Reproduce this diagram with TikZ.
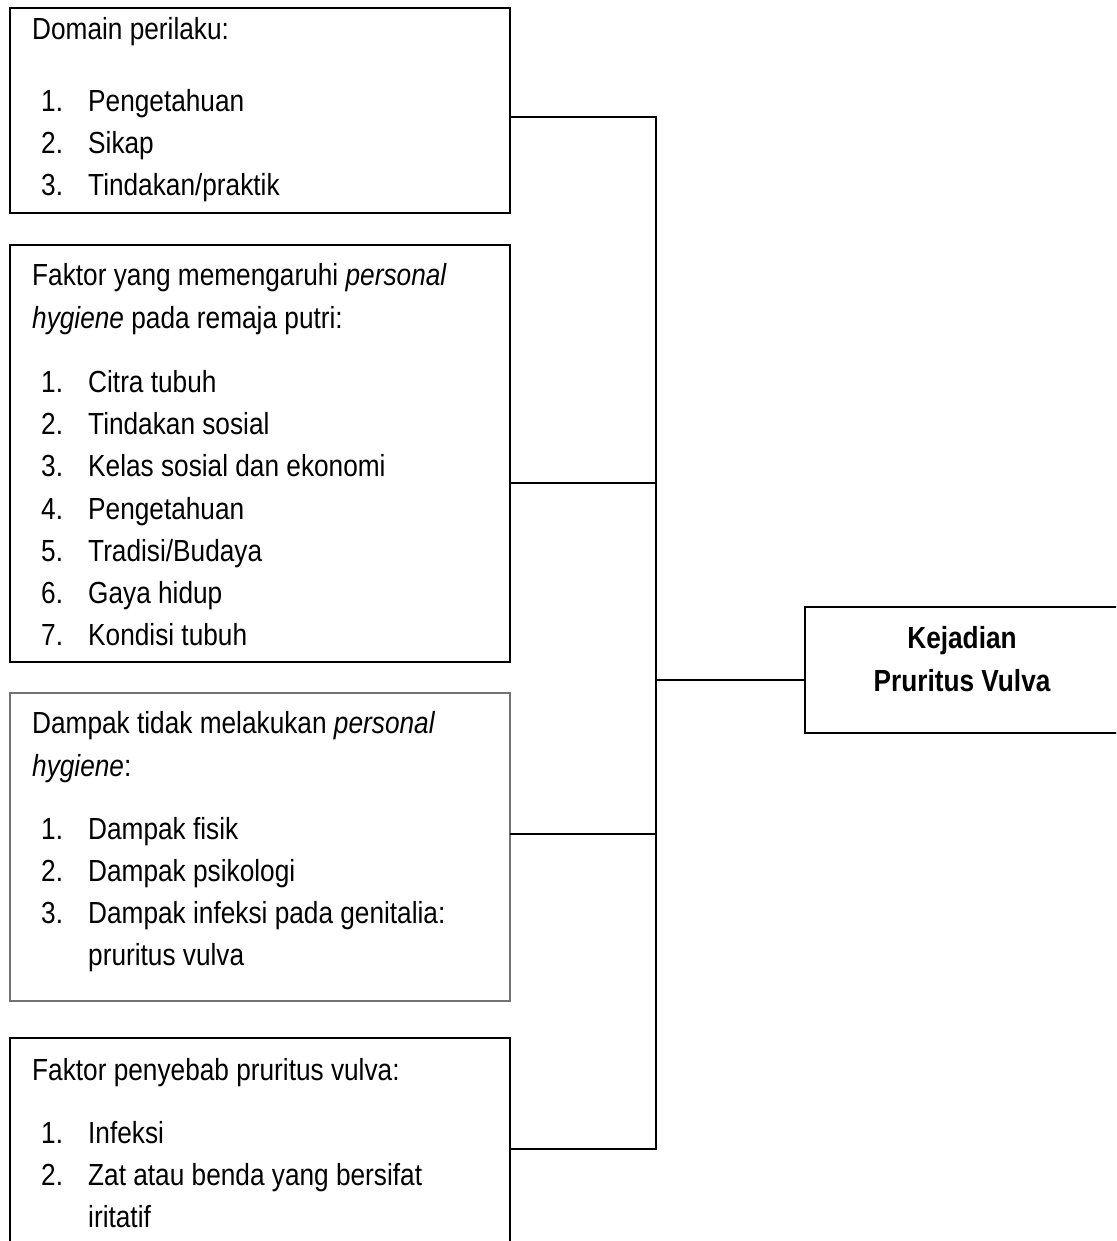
\documentclass[tikz,border=0pt]{standalone}
\usepackage{fontspec}
\setmainfont{Liberation Sans}[FakeStretch=0.86]
\begin{document}
\begin{tikzpicture}[x=1pt,y=-1pt,
  boxframe/.style={draw=black, line width=2.2pt, anchor=north west, inner sep=0pt, outer sep=0pt},
  grayframe/.style={draw=black!55, line width=1.3pt, anchor=north west, inner sep=0pt, outer sep=0pt},
  txt/.style={anchor=base west, inner sep=0pt, font=\fontsize{30.5}{36}\selectfont},
  btxt/.style={anchor=base, inner sep=0pt, font=\fontsize{30.5}{36}\selectfont\bfseries},
  conn/.style={draw=black, line width=2.2pt}]
\useasboundingbox (0,0) rectangle (1116,1241);
\fill[white] (0,0) rectangle (1116,1241);
\clip (0,0) rectangle (1116,1241);

% boxes
\node[boxframe, minimum width=500pt, minimum height=205pt] (box1) at (10,8) {};
\node[boxframe, minimum width=500pt, minimum height=417pt] (box2) at (10,245) {};
\node[grayframe, minimum width=500pt, minimum height=308pt] (box3) at (10,693) {};
\node[boxframe, minimum width=500pt, minimum height=230pt] (box4) at (10,1038) {};
\node[boxframe, minimum width=320pt, minimum height=126pt] (kej) at (805,607) {};

% box 1 text
\node[txt] (b1h) at (32,40) {Domain perilaku:};
\node[txt] (b1n1) at (41,112) {1.};
\node[txt] (b1i1) at (88,112) {Pengetahuan};
\node[txt] (b1n2) at (41,154) {2.};
\node[txt] (b1i2) at (88,154) {Sikap};
\node[txt] (b1n3) at (41,196) {3.};
\node[txt] (b1i3) at (88,196) {Tindakan/praktik};

% box 2 text
\node[txt] (b2h1) at (32,285) {Faktor yang memengaruhi \textit{personal}};
\node[txt] (b2h2) at (32,328) {\textit{hygiene} pada remaja putri:};
\node[txt] (b2n1) at (41,392) {1.};
\node[txt] (b2i1) at (88,392) {Citra tubuh};
\node[txt] (b2n2) at (41,434) {2.};
\node[txt] (b2i2) at (88,434) {Tindakan sosial};
\node[txt] (b2n3) at (41,476) {3.};
\node[txt] (b2i3) at (88,476) {Kelas sosial dan ekonomi};
\node[txt] (b2n4) at (41,519) {4.};
\node[txt] (b2i4) at (88,519) {Pengetahuan};
\node[txt] (b2n5) at (41,561) {5.};
\node[txt] (b2i5) at (88,561) {Tradisi/Budaya};
\node[txt] (b2n6) at (41,603) {6.};
\node[txt] (b2i6) at (88,603) {Gaya hidup};
\node[txt] (b2n7) at (41,645) {7.};
\node[txt] (b2i7) at (88,645) {Kondisi tubuh};

% box 3 text
\node[txt] (b3h1) at (32,733) {Dampak tidak melakukan \textit{personal}};
\node[txt] (b3h2) at (32,776) {\textit{hygiene}:};
\node[txt] (b3n1) at (41,839) {1.};
\node[txt] (b3i1) at (88,839) {Dampak fisik};
\node[txt] (b3n2) at (41,881) {2.};
\node[txt] (b3i2) at (88,881) {Dampak psikologi};
\node[txt] (b3n3) at (41,923) {3.};
\node[txt] (b3i3) at (88,923) {Dampak infeksi pada genitalia:};
\node[txt] (b3i3b) at (88,965) {pruritus vulva};

% box 4 text
\node[txt] (b4h) at (32,1080) {Faktor penyebab pruritus vulva:};
\node[txt] (b4n1) at (41,1143) {1.};
\node[txt] (b4i1) at (88,1143) {Infeksi};
\node[txt] (b4n2) at (41,1185) {2.};
\node[txt] (b4i2) at (88,1185) {Zat atau benda yang bersifat};
\node[txt] (b4i2b) at (88,1227) {iritatif};

% right box text
\node[btxt] (kt1) at (962,648) {Kejadian};
\node[btxt] (kt2) at (962,691) {Pruritus Vulva};

% connectors
\coordinate (j1) at (656,117);
\coordinate (j2) at (656,483);
\coordinate (j3) at (656,834);
\coordinate (j4) at (656,1149);
\coordinate (jr) at (656,680);
\draw[conn] (box1.east |- j1) -- (j1);
\draw[conn] (box2.east |- j2) -- (j2);
\draw[conn] (box3.east |- j3) -- (j3);
\draw[conn] (box4.east |- j4) -- (j4);
\draw[conn, line cap=rect] (j1) -- (j4);
\draw[conn] (jr) -- (kej.west |- jr);
\end{tikzpicture}
\end{document}
